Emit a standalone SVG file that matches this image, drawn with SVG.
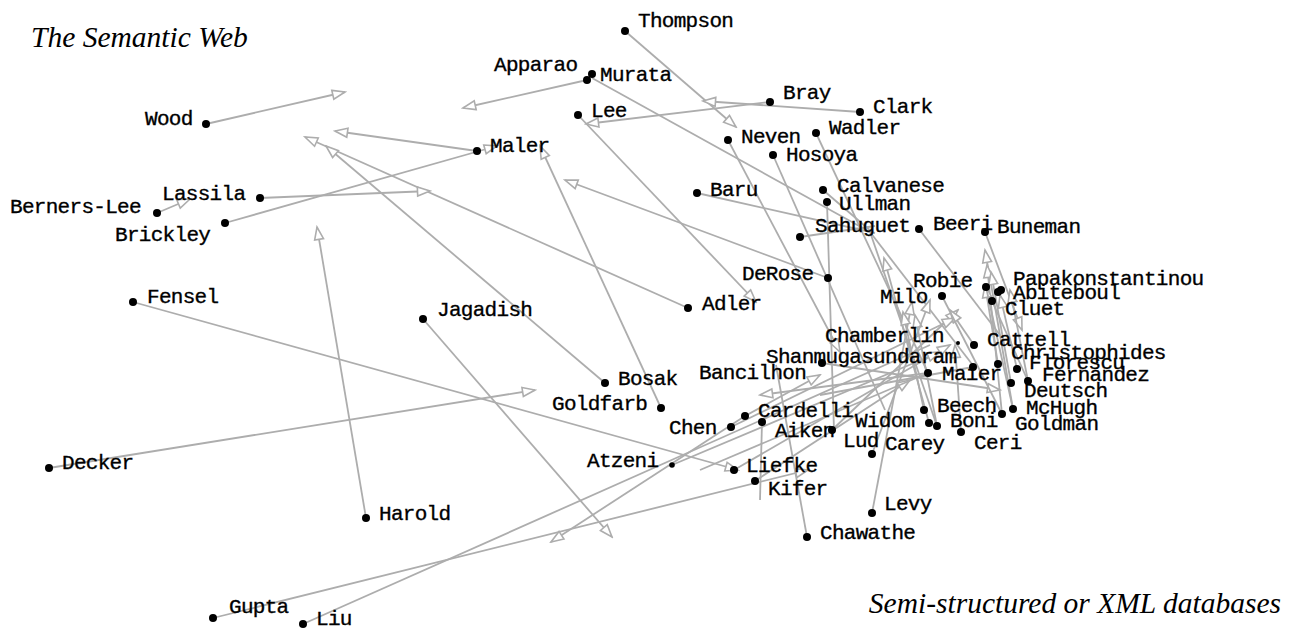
<svg xmlns="http://www.w3.org/2000/svg" width="1291" height="629" viewBox="0 0 1291 629">
<defs>
<marker id="ah" markerUnits="userSpaceOnUse" markerWidth="16" markerHeight="12" viewBox="0 0 16 12" refX="14" refY="6" orient="auto">
<path d="M1.5,1.5 L14,6 L1.5,10.5 Z" fill="#fff" stroke="#adadad" stroke-width="1.6"/>
</marker>
</defs>
<style>
.e{stroke:#adadad;stroke-width:1.8;fill:none}
.a{marker-end:url(#ah)}
.d{fill:#000}
.t{font-family:"Liberation Mono","DejaVu Sans Mono",monospace;font-size:21px;letter-spacing:-0.7px;fill:#000;stroke:#000;stroke-width:0.35}
.h{font-family:"Liberation Serif","Times New Roman",serif;font-style:italic;font-size:29.5px;fill:#000}
</style>
<rect width="1291" height="629" fill="#fff"/>
<text class="h" x="31" y="47">The Semantic Web</text>
<text class="h" x="1281" y="613" text-anchor="end">Semi-structured or XML databases</text>
<g id="connectors">
<line class="e a" x1="206" y1="124" x2="345" y2="92"/>
<line class="e a" x1="477" y1="151" x2="335" y2="131"/>
<line class="e a" x1="688" y1="308" x2="305" y2="137"/>
<line class="e a" x1="605" y1="383" x2="326" y2="146"/>
<line class="e a" x1="260" y1="198" x2="430" y2="191"/>
<line class="e a" x1="157" y1="213" x2="190" y2="199"/>
<line class="e a" x1="225" y1="223" x2="497" y2="146"/>
<line class="e a" x1="587" y1="80" x2="463" y2="108"/>
<line class="e" x1="592" y1="78" x2="870" y2="232"/>
<line class="e a" x1="625" y1="31" x2="736" y2="127"/>
<line class="e a" x1="860" y1="112" x2="703" y2="101"/>
<line class="e a" x1="770" y1="102" x2="586" y2="124"/>
<line class="e a" x1="578" y1="115" x2="756" y2="302"/>
<line class="e a" x1="661" y1="408" x2="540" y2="146"/>
<line class="e a" x1="828" y1="278" x2="565" y2="180"/>
<line class="e a" x1="133" y1="302" x2="738" y2="470"/>
<line class="e a" x1="49" y1="468" x2="535" y2="390"/>
<line class="e a" x1="366" y1="518" x2="317" y2="227"/>
<line class="e a" x1="423" y1="319" x2="612" y2="537"/>
<line class="e a" x1="745" y1="416" x2="551" y2="542"/>
<line class="e a" x1="213" y1="618" x2="808" y2="470"/>
<line class="e" x1="303" y1="624" x2="930" y2="345"/>
<line class="e" x1="697" y1="193" x2="875" y2="233"/>
<line class="e a" x1="728" y1="140" x2="840" y2="352"/>
<line class="e" x1="773" y1="155" x2="885" y2="410"/>
<line class="e" x1="816" y1="133" x2="928" y2="373"/>
<line class="e" x1="827" y1="202" x2="834" y2="430"/>
<line class="e" x1="823" y1="190" x2="872" y2="232"/>
<line class="e" x1="800" y1="237" x2="875" y2="226"/>
<line class="e" x1="807" y1="537" x2="776" y2="365"/>
<line class="e a" x1="872" y1="513" x2="912" y2="302"/>
<line class="e a" x1="1013" y1="409" x2="985" y2="250"/>
<line class="e a" x1="1002" y1="414" x2="987" y2="265"/>
<line class="e a" x1="1011" y1="383" x2="991" y2="272"/>
<line class="e a" x1="985" y1="232" x2="1022" y2="330"/>
<line class="e" x1="919" y1="229" x2="1000" y2="335"/>
<line class="e" x1="870" y1="232" x2="975" y2="368"/>
<line class="e" x1="870" y1="232" x2="937" y2="426"/>
<line class="e a" x1="929" y1="423" x2="884" y2="258"/>
<line class="e a" x1="924" y1="410" x2="903" y2="312"/>
<line class="e a" x1="937" y1="426" x2="915" y2="315"/>
<line class="e a" x1="832" y1="430" x2="958" y2="310"/>
<line class="e a" x1="731" y1="427" x2="955" y2="318"/>
<line class="e a" x1="734" y1="470" x2="950" y2="345"/>
<line class="e a" x1="672" y1="465" x2="940" y2="352"/>
<line class="e" x1="762" y1="422" x2="760" y2="500"/>
<line class="e a" x1="822" y1="363" x2="1000" y2="390"/>
<line class="e a" x1="974" y1="345" x2="950" y2="310"/>
<line class="e a" x1="961" y1="432" x2="955" y2="345"/>
<line class="e a" x1="872" y1="454" x2="930" y2="300"/>
<line class="e a" x1="998" y1="364" x2="985" y2="285"/>
<line class="e a" x1="1017" y1="369" x2="1000" y2="295"/>
<line class="e a" x1="1028" y1="381" x2="1010" y2="290"/>
<line class="e" x1="942" y1="296" x2="1002" y2="414"/>
<line class="e" x1="986" y1="287" x2="1013" y2="409"/>
<line class="e" x1="992" y1="301" x2="1028" y2="381"/>
<line class="e a" x1="755" y1="481" x2="910" y2="380"/>
<line class="e a" x1="745" y1="416" x2="820" y2="375"/>
<line class="e" x1="700" y1="470" x2="928" y2="373"/>
<line class="e a" x1="928" y1="373" x2="760" y2="395"/>
<line class="e" x1="973" y1="367" x2="820" y2="395"/>
</g>
<g id="n-thompson"><circle class="d" cx="625" cy="31" r="4"/><text class="t" x="638" y="27">Thompson</text></g>
<g id="n-apparao"><circle class="d" cx="587" cy="80" r="4"/><text class="t" x="494" y="71">Apparao</text></g>
<g id="n-murata"><circle class="d" cx="592" cy="74" r="4"/><text class="t" x="600" y="81">Murata</text></g>
<g id="n-bray"><circle class="d" cx="770" cy="102" r="4"/><text class="t" x="783" y="99">Bray</text></g>
<g id="n-clark"><circle class="d" cx="860" cy="112" r="4"/><text class="t" x="873" y="113">Clark</text></g>
<g id="n-lee"><circle class="d" cx="578" cy="115" r="4"/><text class="t" x="591" y="117">Lee</text></g>
<g id="n-wadler"><circle class="d" cx="816" cy="133" r="4"/><text class="t" x="829" y="134">Wadler</text></g>
<g id="n-neven"><circle class="d" cx="728" cy="140" r="4"/><text class="t" x="741" y="143">Neven</text></g>
<g id="n-maler"><circle class="d" cx="477" cy="151" r="4"/><text class="t" x="490" y="152">Maler</text></g>
<g id="n-hosoya"><circle class="d" cx="773" cy="155" r="4"/><text class="t" x="786" y="161">Hosoya</text></g>
<g id="n-baru"><circle class="d" cx="697" cy="193" r="4"/><text class="t" x="710" y="196">Baru</text></g>
<g id="n-calvanese"><circle class="d" cx="823" cy="190" r="4"/><text class="t" x="837" y="192">Calvanese</text></g>
<g id="n-ullman"><circle class="d" cx="827" cy="202" r="4"/><text class="t" x="839" y="210">Ullman</text></g>
<g id="n-sahuguet"><circle class="d" cx="800" cy="237" r="4"/><text class="t" x="815" y="232">Sahuguet</text></g>
<g id="n-beeri"><circle class="d" cx="919" cy="229" r="4"/><text class="t" x="933" y="230">Beeri</text></g>
<g id="n-buneman"><circle class="d" cx="985" cy="232" r="4"/><text class="t" x="997" y="233">Buneman</text></g>
<g id="n-derose"><circle class="d" cx="828" cy="278" r="4"/><text class="t" x="742" y="280">DeRose</text></g>
<g id="n-adler"><circle class="d" cx="688" cy="308" r="4"/><text class="t" x="702" y="310">Adler</text></g>
<g id="n-robie"><circle class="d" cx="986" cy="287" r="4"/><text class="t" x="913" y="287">Robie</text></g>
<g id="n-papakonstantinou"><circle class="d" cx="1001" cy="290" r="4"/><text class="t" x="1013" y="285">Papakonstantinou</text></g>
<g id="n-abiteboul"><circle class="d" cx="998" cy="292" r="4"/><text class="t" x="1013" y="299">Abiteboul</text></g>
<g id="n-cluet"><circle class="d" cx="992" cy="301" r="4"/><text class="t" x="1005" y="315">Cluet</text></g>
<g id="n-milo"><circle class="d" cx="942" cy="296" r="4"/><text class="t" x="880" y="303">Milo</text></g>
<g id="n-chamberlin"><circle class="d" cx="958" cy="343" r="2"/><text class="t" x="825" y="342">Chamberlin</text></g>
<g id="n-cattell"><circle class="d" cx="974" cy="345" r="4"/><text class="t" x="987" y="346">Cattell</text></g>
<g id="n-christophides"><circle class="d" cx="998" cy="364" r="4"/><text class="t" x="1011" y="359">Christophides</text></g>
<g id="n-florescu"><circle class="d" cx="1017" cy="369" r="4"/><text class="t" x="1029" y="369">Florescu</text></g>
<g id="n-fernandez"><circle class="d" cx="1028" cy="381" r="4"/><text class="t" x="1042" y="381">Fernandez</text></g>
<g id="n-deutsch"><circle class="d" cx="1011" cy="383" r="4"/><text class="t" x="1024" y="397">Deutsch</text></g>
<g id="n-mchugh"><circle class="d" cx="1013" cy="409" r="4"/><text class="t" x="1026" y="414">McHugh</text></g>
<g id="n-goldman"><circle class="d" cx="1002" cy="414" r="4"/><text class="t" x="1015" y="430">Goldman</text></g>
<g id="n-shanmugasundaram"><circle class="d" cx="822" cy="363" r="4"/><text class="t" x="766" y="363">Shanmugasundaram</text></g>
<g id="n-maier"><circle class="d" cx="928" cy="373" r="4"/><circle class="d" cx="973" cy="367" r="4"/><text class="t" x="942" y="380">Maier</text></g>
<g id="n-bancilhon"><text class="t" x="699" y="379">Bancilhon</text></g>
<g id="n-cardelli"><circle class="d" cx="745" cy="416" r="4"/><text class="t" x="758" y="417">Cardelli</text></g>
<g id="n-chen"><circle class="d" cx="731" cy="427" r="4"/><text class="t" x="669" y="434">Chen</text></g>
<g id="n-aiken"><circle class="d" cx="762" cy="422" r="4"/><circle class="d" cx="832" cy="430" r="4"/><text class="t" x="775" y="437">Aiken</text></g>
<g id="n-widom"><circle class="d" cx="929" cy="423" r="4"/><text class="t" x="855" y="427">Widom</text></g>
<g id="n-lud"><text class="t" x="843" y="447">Lud</text></g>
<g id="n-carey"><circle class="d" cx="872" cy="454" r="4"/><text class="t" x="885" y="450">Carey</text></g>
<g id="n-beech"><circle class="d" cx="924" cy="410" r="4"/><text class="t" x="937" y="412">Beech</text></g>
<g id="n-boni"><circle class="d" cx="937" cy="426" r="4"/><text class="t" x="950" y="427">Boni</text></g>
<g id="n-ceri"><circle class="d" cx="961" cy="432" r="4"/><text class="t" x="974" y="449">Ceri</text></g>
<g id="n-liefke"><circle class="d" cx="734" cy="470" r="4"/><text class="t" x="746" y="472">Liefke</text></g>
<g id="n-kifer"><circle class="d" cx="755" cy="481" r="4"/><text class="t" x="768" y="495">Kifer</text></g>
<g id="n-atzeni"><circle class="d" cx="672" cy="465" r="2.8"/><text class="t" x="587" y="467">Atzeni</text></g>
<g id="n-levy"><circle class="d" cx="872" cy="513" r="4"/><text class="t" x="884" y="510">Levy</text></g>
<g id="n-chawathe"><circle class="d" cx="807" cy="537" r="4"/><text class="t" x="820" y="539">Chawathe</text></g>
<g id="n-bosak"><circle class="d" cx="605" cy="383" r="4"/><text class="t" x="618" y="385">Bosak</text></g>
<g id="n-goldfarb"><circle class="d" cx="661" cy="408" r="4"/><text class="t" x="552" y="410">Goldfarb</text></g>
<g id="n-jagadish"><circle class="d" cx="423" cy="319" r="4"/><text class="t" x="437" y="316">Jagadish</text></g>
<g id="n-fensel"><circle class="d" cx="133" cy="302" r="4"/><text class="t" x="147" y="303">Fensel</text></g>
<g id="n-decker"><circle class="d" cx="49" cy="468" r="4"/><text class="t" x="62" y="469">Decker</text></g>
<g id="n-harold"><circle class="d" cx="366" cy="518" r="4"/><text class="t" x="379" y="520">Harold</text></g>
<g id="n-gupta"><circle class="d" cx="213" cy="618" r="4"/><text class="t" x="229" y="613">Gupta</text></g>
<g id="n-liu"><circle class="d" cx="303" cy="624" r="4"/><text class="t" x="316" y="625">Liu</text></g>
<g id="n-wood"><circle class="d" cx="206" cy="124" r="4"/><text class="t" x="145" y="125">Wood</text></g>
<g id="n-lassila"><circle class="d" cx="260" cy="198" r="4"/><text class="t" x="162" y="200">Lassila</text></g>
<g id="n-berners-lee"><circle class="d" cx="157" cy="213" r="4"/><text class="t" x="10" y="213">Berners-Lee</text></g>
<g id="n-brickley"><circle class="d" cx="225" cy="223" r="4"/><text class="t" x="115" y="241">Brickley</text></g>
</svg>
